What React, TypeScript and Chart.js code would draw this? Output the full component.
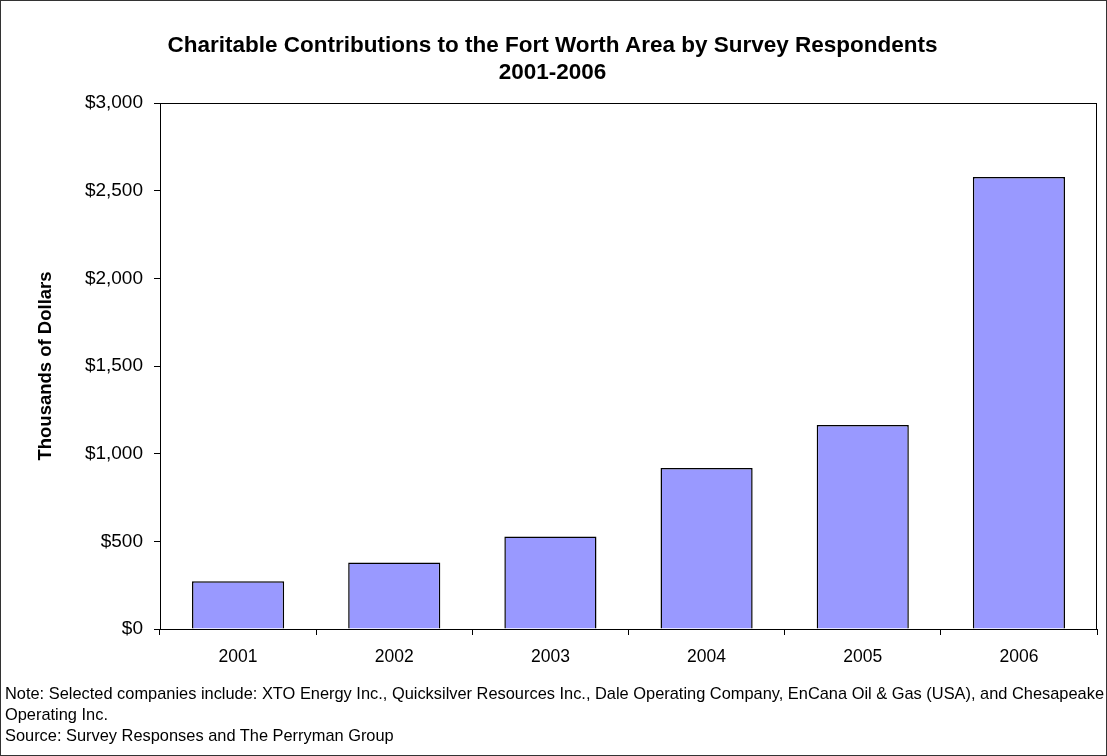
import React, { useEffect, useRef } from "react";
import { Chart, registerables } from "chart.js";

Chart.register(...registerables);

const titleLines = [
  "Charitable Contributions to the Fort Worth Area by Survey Respondents",
  "2001-2006",
];
const years = ["2001", "2002", "2003", "2004", "2005", "2006"];
const contributions = [272, 379, 528, 918, 1163, 2578];
const yTicks = [0, 500, 1000, 1500, 2000, 2500, 3000];
const yAxisTitle = "Thousands of Dollars";
const noteLines = [
  "Note: Selected companies include: XTO Energy Inc., Quicksilver Resources Inc., Dale Operating Company, EnCana Oil & Gas (USA), and Chesapeake",
  "Operating Inc.",
  "Source: Survey Responses and The Perryman Group",
];

const FONT = "'Liberation Sans', Arial, sans-serif";

const framePlugin = {
  id: "frame",
  afterDatasetsDraw(chart: any) {
    const { ctx, chartArea } = chart;
    ctx.save();
    ctx.strokeStyle = "#000";
    ctx.lineWidth = 1;
    ctx.strokeRect(
      Math.round(chartArea.left) + 0.5,
      Math.round(chartArea.top) + 0.5,
      Math.round(chartArea.right - chartArea.left) - 1,
      Math.round(chartArea.bottom - chartArea.top)
    );
    ctx.restore();
  },
};

export default function App() {
  const ref = useRef<HTMLCanvasElement>(null);
  useEffect(() => {
    document.body.style.margin = "0";
    if (!ref.current) return;
    const chart = new Chart(ref.current, {
      type: "bar",
      data: {
        labels: years,
        datasets: [
          {
            data: contributions,
            backgroundColor: "#9999FF",
            borderColor: "#000",
            borderWidth: 1.5,
            categoryPercentage: 1,
            barPercentage: 0.59,
          },
        ],
      },
      options: {
        animation: false,
        responsive: false,
        maintainAspectRatio: false,
        layout: { padding: { top: 103, left: 0, right: 10, bottom: 0 } },
        plugins: {
          legend: { display: false },
          tooltip: { enabled: false },
          title: { display: false },
        },
        scales: {
          x: {
            grid: {
              offset: true,
              drawOnChartArea: false,
              drawTicks: true,
              tickLength: 6,
              color: "#000",
              lineWidth: 1,
            },
            border: { display: true, color: "#000", width: 1 },
            ticks: {
              color: "#000",
              font: { family: FONT, size: 17.5 },
              padding: 12,
              maxRotation: 0,
            },
            afterFit: (scale: any) => {
              scale.height = 756 - 629;
            },
          },
          y: {
            min: 0,
            max: 3000,
            afterBuildTicks: (scale: any) => {
              scale.ticks = yTicks.map((v) => ({ value: v }));
            },
            grid: {
              drawOnChartArea: false,
              drawTicks: true,
              tickLength: 6,
              color: "#000",
            },
            border: { display: true, color: "#000", width: 1 },
            ticks: {
              color: "#000",
              font: { family: FONT, size: 19 },
              padding: 11,
              callback: (v: any) => "$" + Number(v).toLocaleString("en-US"),
            },
            title: {
              display: true,
              text: yAxisTitle,
              color: "#000",
              font: { family: FONT, size: 18.5, weight: "bold" },
              padding: { top: 35, bottom: 0 },
            },
            afterFit: (scale: any) => {
              scale.width = 160;
            },
          },
        },
      },
      plugins: [framePlugin],
    });
    return () => chart.destroy();
  }, []);

  return (
    <div
      style={{
        position: "absolute",
        left: 0,
        top: 0,
        width: 1107,
        height: 756,
        boxSizing: "border-box",
        border: "1px solid #333",
        background: "#fff",
        fontFamily: FONT,
        overflow: "hidden",
      }}
    >
      <canvas
        ref={ref}
        width={1107}
        height={756}
        style={{ position: "absolute", left: -1, top: -1, width: 1107, height: 756 }}
      />
      <div
        style={{
          position: "absolute",
          left: 0,
          top: 30,
          width: 1103,
          textAlign: "center",
          fontWeight: "bold",
          fontSize: 22.5,
          lineHeight: "27px",
          color: "#000",
        }}
      >
        {titleLines.map((t, i) => (
          <div key={i}>{t}</div>
        ))}
      </div>
      <div
        style={{
          position: "absolute",
          left: 4,
          top: 682,
          fontSize: 16.4,
          lineHeight: "21px",
          color: "#000",
          whiteSpace: "nowrap",
        }}
      >
        {noteLines.map((t, i) => (
          <div key={i}>{t}</div>
        ))}
      </div>
    </div>
  );
}
